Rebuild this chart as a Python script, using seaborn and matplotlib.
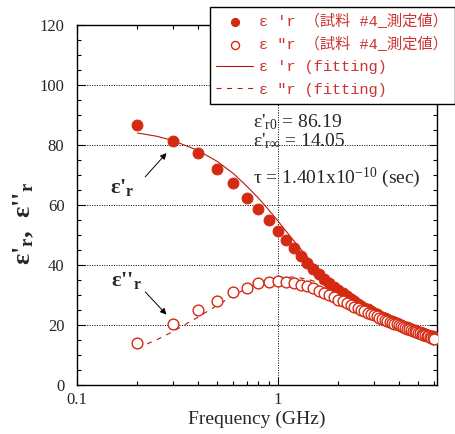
import matplotlib
matplotlib.use("Agg")
import matplotlib.pyplot as plt
import seaborn as sns
import pandas as pd
from matplotlib.ticker import MultipleLocator, LogLocator, NullFormatter, FixedLocator, FixedFormatter

# measured data (GHz)
freq = [0.2, 0.3, 0.4, 0.5, 0.6, 0.7, 0.8, 0.9, 1.0, 1.1,
        1.2, 1.3, 1.4, 1.5, 1.6, 1.7, 1.8, 1.9, 2.0, 2.1,
        2.2, 2.3, 2.4, 2.5, 2.6, 2.7, 2.8, 2.9, 3.0, 3.1,
        3.2, 3.3, 3.4, 3.5, 3.6, 3.7, 3.8, 3.9, 4.0, 4.1,
        4.2, 4.3, 4.4, 4.5, 4.6, 4.7, 4.8, 4.9, 5.0, 5.1,
        5.2, 5.3, 5.4, 5.5, 5.6, 5.7, 5.8, 5.9, 6.0]
eps_real = [86.7, 81.3, 77.3, 72.0, 67.3, 62.5, 58.6, 55.0, 51.3, 48.3,
            45.6, 43.0, 40.6, 38.6, 36.9, 35.4, 34.0, 32.8, 31.7, 30.6,
            29.6, 28.7, 27.9, 27.1, 26.4, 25.8, 25.2, 24.6, 24.1, 23.6,
            23.1, 22.7, 22.3, 21.9, 21.5, 21.2, 20.9, 20.6, 20.3, 20.0,
            19.7, 19.4, 19.2, 18.9, 18.7, 18.5, 18.2, 18.0, 17.8, 17.6,
            17.4, 17.2, 17.0, 16.8, 16.7, 16.5, 16.3, 16.2, 16.0]
eps_imag = [13.9, 20.2, 24.9, 28.1, 30.9, 32.4, 33.9, 34.3, 34.7, 34.4,
            34.0, 33.5, 32.9, 32.2, 31.5, 30.8, 30.1, 29.4, 28.5, 27.9,
            27.3, 26.7, 26.1, 25.6, 25.1, 24.6, 24.1, 23.7, 23.3, 22.9,
            22.5, 22.1, 21.8, 21.4, 21.1, 20.8, 20.5, 20.2, 19.9, 19.6,
            19.3, 19.1, 18.8, 18.6, 18.3, 18.1, 17.9, 17.6, 17.4, 17.2,
            17.0, 16.8, 16.6, 16.4, 16.2, 16.0, 15.8, 15.6, 15.4]

# fitted curves
fit_freq = [0.2, 0.25, 0.3, 0.4, 0.5, 0.6, 0.7, 0.8, 0.9, 1.0, 1.2, 1.4,
            1.6, 1.8, 2.0, 2.5, 3.0, 3.5, 4.0, 4.5, 5.0, 5.5, 6.0]
fit_real = [84.0, 82.9, 81.5, 78.2, 74.5, 70.5, 66.3, 62.3, 58.4, 54.7, 48.1, 42.7,
            38.2, 34.6, 31.6, 26.4, 23.1, 20.9, 19.4, 18.4, 17.6, 17.0, 16.6]
fit_imag = [12.3, 15.1, 17.8, 22.6, 26.6, 29.8, 32.2, 33.9, 35.1, 35.8, 36.0, 35.3,
            34.1, 32.6, 31.0, 27.2, 23.9, 21.2, 19.0, 17.1, 15.6, 14.3, 13.2]

labels = ["ε 'r （試料 #4_測定値）", "ε ″r （試料 #4_測定値）",
          "ε 'r (fitting)", "ε ″r (fitting)"]
param_text = ["ε'$_{\\mathrm{r0}}$ = 86.19", "ε'$_{\\mathrm{r\\infty}}$ = 14.05",
              "τ = 1.401x10$^{-10}$ (sec)"]

df = pd.DataFrame({"freq": freq, "real": eps_real, "imag": eps_imag})
fit = pd.DataFrame({"freq": fit_freq, "real": fit_real, "imag": fit_imag})

sns.set_style("ticks")
plt.rcParams["font.family"] = ["Liberation Serif", "DejaVu Serif"]
plt.rcParams["mathtext.fontset"] = "custom"
plt.rcParams["mathtext.rm"] = "Liberation Serif"
plt.rcParams["mathtext.it"] = "Liberation Serif:italic"
plt.rcParams["mathtext.bf"] = "Liberation Serif:bold"

red = "#d42a12"
line_red = "#b8180c"

fig = plt.figure(figsize=(4.56, 4.34), dpi=100)
ax = fig.add_axes([77 / 456, 49 / 434, 360 / 456, 360 / 434])

sns.lineplot(data=fit, x="freq", y="real", ax=ax, color=line_red, lw=0.8,
             label=labels[2], zorder=2)
sns.lineplot(data=fit, x="freq", y="imag", ax=ax, color=line_red, lw=0.8,
             linestyle=(0, (4.5, 5)), label=labels[3], zorder=2)
sns.scatterplot(data=df, x="freq", y="real", ax=ax, color=red, s=60,
                edgecolor=red, linewidth=0.8, label=labels[0], zorder=3)
sns.scatterplot(data=df, x="freq", y="imag", ax=ax, facecolor="white",
                edgecolor=red, s=60, linewidth=1.0, label=labels[1], zorder=4)

ax.set_xscale("log")
ax.set_xlim(0.1, 6.2)
ax.set_ylim(0, 120)
ax.yaxis.set_major_locator(MultipleLocator(20))
ax.yaxis.set_minor_locator(MultipleLocator(5))
ax.xaxis.set_major_locator(FixedLocator([0.1, 1]))
ax.xaxis.set_major_formatter(FixedFormatter(["0.1", "1"]))
ax.xaxis.set_minor_locator(LogLocator(base=10, subs=range(2, 10)))
ax.xaxis.set_minor_formatter(NullFormatter())
ax.tick_params(which="both", direction="in", top=True, right=True,
               color="black", width=0.8)
ax.tick_params(which="major", length=6)
ax.tick_params(which="minor", length=3)
ax.tick_params(axis="y", labelsize=12, pad=9)
ax.tick_params(axis="x", labelsize=12, pad=5)
for s in ax.spines.values():
    s.set_color("black")
    s.set_linewidth(1.0)
ax.grid(which="major", linestyle=(0, (1, 1.5)), color="black", lw=0.7)

ax.set_xlabel("Frequency (GHz)", fontsize=14, labelpad=2)
ax.set_ylabel("")
fig.text(24 / 456, 0.485, "ε'$_{\\mathbf{r}}$,  ε''$_{\\mathbf{r}}$",
         rotation=90, fontsize=19, fontweight="bold", ha="center", va="center")

# arrows with labels
ax.annotate("", xy=(0.285, 78.0), xytext=(0.214, 68.7),
            arrowprops=dict(arrowstyle="-|>", color="black", lw=0.7,
                            mutation_scale=9))
ax.text(0.146, 64, "ε'$_{\\mathbf{r}}$", fontsize=16, fontweight="bold",
        ha="left", va="baseline")
ax.annotate("", xy=(0.285, 22.8), xytext=(0.214, 31.7),
            arrowprops=dict(arrowstyle="-|>", color="black", lw=0.7,
                            mutation_scale=9))
ax.text(0.148, 33, "ε''$_{\\mathbf{r}}$", fontsize=16, fontweight="bold",
        ha="left", va="baseline")

ax.text(0.489, 0.717, param_text[0], transform=ax.transAxes, fontsize=14,
        va="baseline")
ax.text(0.489, 0.662, param_text[1], transform=ax.transAxes, fontsize=14,
        va="baseline")
ax.text(0.489, 0.561, param_text[2], transform=ax.transAxes, fontsize=14,
        va="baseline")

handles, labs = ax.get_legend_handles_labels()
order = [labs.index(l) for l in labels]
leg = fig.legend([handles[i] for i in order], labels, loc="upper right",
                 bbox_to_anchor=(455 / 456, 427 / 434), frameon=True,
                 fancybox=False, framealpha=1, edgecolor="black",
                 labelcolor="#cc3333", handlelength=2.4, handletextpad=0.4,
                 borderpad=0.45, labelspacing=0.54, borderaxespad=0,
                 markerscale=0.75,
                 prop={"family": ["Liberation Mono", "Noto Sans CJK JP"], "size": 11})
leg.get_frame().set_linewidth(1.0)
if ax.get_legend() is not None:
    ax.get_legend().remove()

plt.savefig("out.png", dpi=100)
plt.close()
